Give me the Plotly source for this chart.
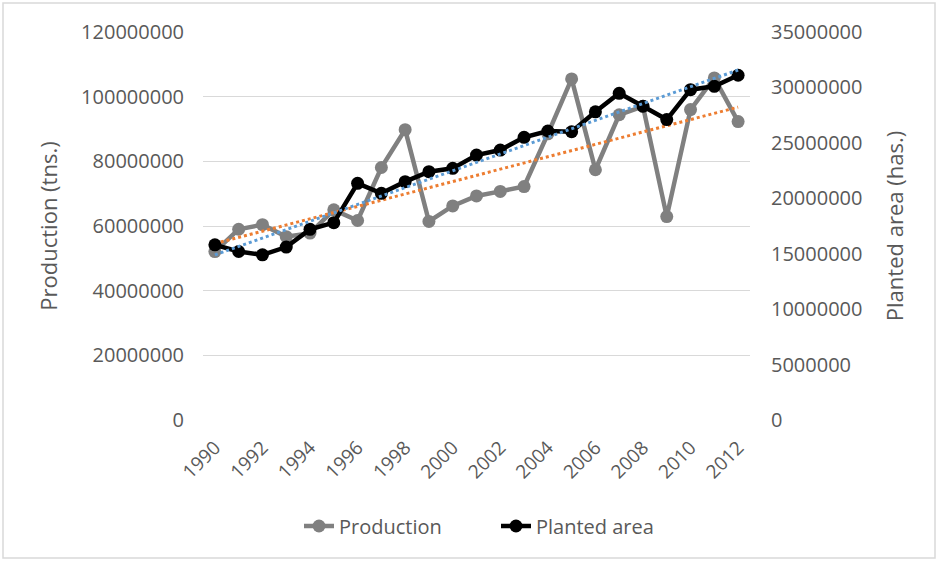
import numpy as np
import plotly.graph_objects as go

years = list(range(1990, 2013))
production = [52.1e6, 59.0e6, 60.4e6, 56.7e6, 57.8e6, 65.0e6, 61.7e6, 78.1e6, 89.8e6, 61.4e6,
              66.2e6, 69.3e6, 70.7e6, 72.2e6, 88.5e6, 105.5e6, 77.4e6, 94.4e6, 97.0e6, 62.9e6,
              96.0e6, 105.8e6, 92.3e6]
planted_area = [15.8e6, 15.2e6, 14.9e6, 15.6e6, 17.2e6, 17.8e6, 21.35e6, 20.45e6, 21.5e6, 22.4e6,
                22.7e6, 23.9e6, 24.35e6, 25.5e6, 26.07e6, 26.0e6, 27.8e6, 29.47e6, 28.3e6, 27.1e6,
                29.8e6, 30.1e6, 31.1e6]
left_ticks = [0, 20000000, 40000000, 60000000, 80000000, 100000000, 120000000]
right_ticks = [0, 5000000, 10000000, 15000000, 20000000, 25000000, 30000000, 35000000]
x_ticks = list(range(1990, 2013, 2))

# Linear trendlines (as in the spreadsheet's trendline option)
xi = np.arange(len(years))
p_fit = np.polyfit(xi, production, 1)
a_fit = np.polyfit(xi, planted_area, 1)
prod_trend = np.polyval(p_fit, xi)
area_trend = np.polyval(a_fit, xi)

FONT = "Open Sans"
TXT = "#595959"

fig = go.Figure()
fig.add_trace(go.Scatter(x=years, y=production, name="Production", mode="lines+markers",
                         line=dict(color="#808080", width=4.5),
                         marker=dict(color="#808080", size=13), yaxis="y"))
fig.add_trace(go.Scatter(x=years, y=prod_trend, mode="lines", showlegend=False,
                         line=dict(color="#ED7D31", width=3, dash="dot"), yaxis="y"))
fig.add_trace(go.Scatter(x=years, y=planted_area, name="Planted area", mode="lines+markers",
                         line=dict(color="#000000", width=4.5),
                         marker=dict(color="#000000", size=13), yaxis="y2"))
fig.add_trace(go.Scatter(x=years, y=area_trend, mode="lines", showlegend=False,
                         line=dict(color="#5B9BD5", width=3, dash="dot"), yaxis="y2"))

L, R, T, B = 203, 188, 32, 142
W, H = 938, 562
pw, ph = W - L - R, H - T - B

def px(x):
    return (x - L) / pw

def py(y):
    return (H - B - y) / ph

fig.update_layout(
    width=W, height=H,
    margin=dict(l=L, r=R, t=T, b=B, autoexpand=False),
    paper_bgcolor="white", plot_bgcolor="white",
    font=dict(family=FONT, color=TXT, size=20),
    xaxis=dict(range=[1989.5, 2012.5], tickvals=x_ticks, ticktext=[str(v) for v in x_ticks],
               tickangle=-45, showgrid=False, zeroline=False, showline=False,
               ticks="outside", ticklen=8, tickcolor="rgba(0,0,0,0)",
               tickfont=dict(size=19, family=FONT, color=TXT)),
    yaxis=dict(range=[0, 120000000], tickvals=left_ticks, ticktext=[str(v) for v in left_ticks],
               showgrid=True, gridcolor="#d9d9d9", gridwidth=1, zeroline=False, showline=False,
               ticks="outside", ticklen=14, tickcolor="rgba(0,0,0,0)",
               tickfont=dict(size=20, family=FONT, color=TXT),
               title=dict(text="Production (tns.)", font=dict(size=22, family=FONT, color=TXT), standoff=17)),
    yaxis2=dict(range=[0, 35000000], tickvals=right_ticks, ticktext=[str(v) for v in right_ticks],
                overlaying="y", side="right", showgrid=False, zeroline=False, showline=False,
                ticks="outside", ticklen=16, tickcolor="rgba(0,0,0,0)",
                tickfont=dict(size=20, family=FONT, color=TXT),
                title=dict(text="Planted area (has.)", font=dict(size=22, family=FONT, color=TXT), standoff=26)),
    legend=dict(orientation="h", x=px(299), y=py(526), xanchor="left", yanchor="middle",
                font=dict(size=20, family=FONT, color=TXT), bgcolor="rgba(0,0,0,0)",
                entrywidth=152, entrywidthmode="pixels", tracegroupgap=0),
    shapes=[dict(type="rect", xref="paper", yref="paper",
                 x0=px(3), x1=px(935), y0=py(558), y1=py(3),
                 line=dict(color="#d9d9d9", width=1.5), layer="below")],
)

fig.write_html("out.html")
